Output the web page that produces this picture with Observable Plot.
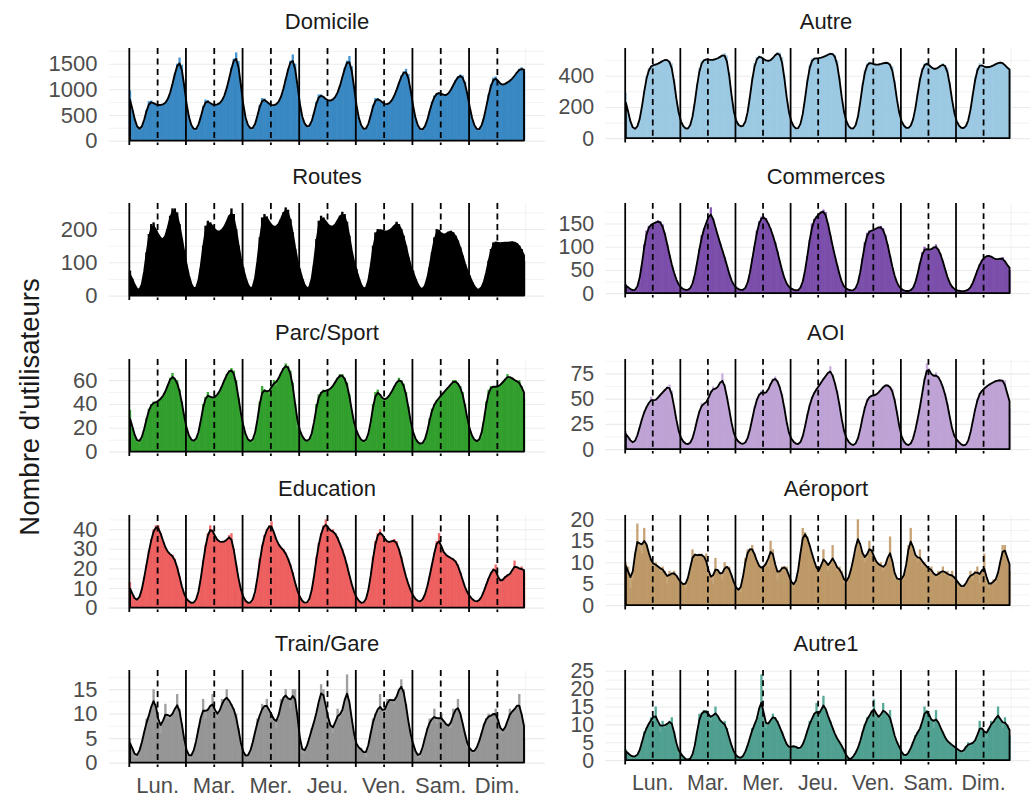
<!DOCTYPE html>
<html><head><meta charset="utf-8">
<script src="https://cdn.jsdelivr.net/npm/d3@7"></script>
<script src="https://cdn.jsdelivr.net/npm/@observablehq/plot@0.6"></script>
<style>
html,body{margin:0;padding:0;background:#fff;overflow:hidden;}
#chart{position:relative;width:1030px;height:797px;overflow:hidden;font-family:"Liberation Sans",Arial,Helvetica,sans-serif;background:#fff;}
.strip{position:absolute;text-align:center;font-size:22px;line-height:22px;color:#1a1a1a;white-space:nowrap;}
.ytitle{position:absolute;font-size:27.5px;line-height:28px;color:#1a1a1a;white-space:nowrap;transform:translate(-50%,-50%) rotate(-90deg);}
.panel{position:absolute;}
</style></head><body><div id="chart"></div>
<script>
// ---- labels ----
const days = ["Lun.","Mar.","Mer.","Jeu.","Ven.","Sam.","Dim."];
const categories = ["Domicile","Autre","Routes","Commerces","Parc/Sport","AOI","Education","Aéroport","Train/Gare","Autre1"];
const yTitle = "Nombre d'utilisateurs";

// ---- hourly values (7 days x 24 h) ----
const domicile = [
 980,600,380,230,190,220,380,600,770,780,720,700,690,690,700,720,780,900,1100,1300,1500,1620,1480,1100,
 620,420,260,200,190,250,450,680,800,790,720,690,690,700,720,760,850,1000,1200,1420,1600,1720,1550,1100,
 600,400,260,220,210,260,480,700,830,820,760,700,690,680,700,740,820,980,1200,1400,1560,1680,1500,1100,
 620,420,300,250,250,320,540,760,900,900,860,800,770,770,790,830,920,1050,1230,1420,1560,1650,1450,1050,
 600,400,260,200,200,260,480,700,830,830,790,740,700,700,720,770,860,980,1120,1270,1350,1400,1300,1000,
 620,400,260,200,190,230,380,580,760,880,930,940,920,880,870,900,980,1080,1180,1250,1290,1270,1150,950,
 620,400,260,200,190,240,420,650,900,1100,1230,1250,1170,1080,1070,1100,1140,1160,1200,1260,1330,1400,1430,1350];
const autre = [
 290,160,90,55,50,60,100,190,310,400,450,465,470,470,475,485,495,505,505,495,480,380,230,140,
 100,70,55,55,65,110,220,350,450,495,505,505,505,500,500,505,510,520,530,545,530,420,260,140,
 100,80,70,70,85,140,260,390,480,520,530,520,505,495,490,495,510,535,550,550,520,400,240,140,
 100,70,55,55,70,130,250,380,470,510,515,510,510,515,520,525,535,545,545,535,500,390,240,140,
 100,70,55,55,65,110,220,350,440,480,490,480,470,470,470,475,480,485,485,480,460,370,230,140,
 100,75,60,60,70,100,170,290,390,450,480,485,470,450,440,440,450,465,480,470,450,360,230,140,
 100,75,60,60,65,95,160,280,390,450,480,470,455,450,455,460,465,475,480,490,485,470,450,430];
const routes = [
 75,50,30,15,10,20,60,130,185,215,220,195,182,170,162,170,200,240,262,262,250,215,170,130,
 90,55,30,15,15,30,80,150,210,225,220,210,195,190,190,195,205,220,240,262,245,200,150,100,
 85,50,28,15,15,35,95,175,235,245,238,220,208,205,205,210,230,250,265,258,230,190,140,95,
 80,50,28,15,15,35,90,170,225,240,235,222,210,205,205,210,225,240,252,245,222,180,130,90,
 80,50,28,15,15,30,80,150,190,200,198,195,192,190,195,200,210,222,215,200,180,150,115,80,
 75,50,30,18,15,22,45,85,130,175,200,198,185,178,185,192,195,190,180,165,145,120,95,70,
 60,40,25,15,15,20,35,65,105,140,160,162,158,155,160,158,160,158,162,160,158,150,140,105];
const commerces = [
 20,12,8,5,5,8,25,60,105,135,145,148,150,152,157,155,148,130,105,82,60,42,28,15,
 12,8,6,6,8,15,35,65,95,125,140,150,165,185,160,140,125,108,92,78,60,40,25,15,
 12,8,6,6,8,15,40,75,100,135,155,165,165,162,150,140,125,110,90,68,48,30,18,12,
 10,7,5,5,8,18,45,80,115,150,160,165,170,175,180,175,150,125,100,80,60,40,20,10,
 10,7,5,5,8,15,40,75,110,130,135,135,135,140,142,145,140,125,105,80,55,35,20,12,
 8,5,4,4,5,8,18,40,65,88,100,95,92,92,100,105,95,85,70,50,32,20,12,8,
 6,5,4,4,5,6,10,20,35,50,62,72,78,80,82,80,75,72,72,75,78,70,60,50];
const parcSport = [
 35,20,12,8,7,10,18,28,36,40,42,40,43,44,46,50,55,62,66,60,60,52,42,28,
 18,12,9,8,9,13,25,40,46,50,45,44,46,47,50,55,60,65,68,70,68,60,45,30,
 22,12,9,8,8,12,25,42,55,52,50,48,55,60,55,62,66,70,74,72,68,58,40,20,
 18,12,9,8,9,12,22,40,48,50,52,50,52,52,55,58,62,65,65,62,58,48,35,20,
 18,12,9,8,8,12,22,40,50,52,48,44,42,45,47,50,55,58,62,60,57,50,38,22,
 15,10,7,6,6,8,15,28,36,40,43,45,47,50,52,54,56,60,60,57,55,50,40,25,
 18,12,9,8,8,12,25,42,52,55,55,54,54,56,58,60,65,62,62,60,58,60,55,45];
const aoi = [
 18,12,8,5,6,12,22,30,38,42,45,52,48,46,52,54,56,58,62,64,58,42,28,15,
 10,7,5,4,5,8,18,30,38,46,45,44,50,58,62,58,60,65,75,64,52,40,25,12,
 10,7,5,5,5,8,18,30,42,50,55,58,55,54,58,65,70,72,68,62,55,42,25,12,
 10,7,5,4,5,10,22,35,44,52,56,60,62,66,70,72,75,82,74,65,58,45,28,14,
 10,7,4,3,4,8,18,32,42,50,52,54,52,54,56,58,62,64,64,62,60,50,38,20,
 10,7,4,3,4,8,18,30,40,55,70,85,80,72,70,76,72,68,62,55,45,32,18,10,
 10,7,4,3,3,6,14,28,40,50,56,58,60,62,64,65,66,68,68,68,69,68,55,40];
const education = [
 13,6,4,3,4,8,15,22,29,35,40,42,42,38,34,30,28,27,27,25,21,16,10,6,
 4,3,2,2,3,6,14,24,32,38,42,40,36,34,33,34,33,34,37,38,30,22,14,8,
 5,3,2,2,3,6,14,25,32,37,40,42,44,38,34,32,30,30,28,25,22,18,12,8,
 5,3,2,2,3,7,15,26,33,38,42,45,40,38,40,38,36,32,30,26,22,16,12,7,
 5,3,2,2,3,7,15,26,34,38,40,37,35,33,33,34,35,34,30,26,20,15,12,8,
 6,4,3,3,3,6,10,16,22,28,34,38,30,27,27,26,25,25,24,22,18,14,10,7,
 6,4,3,3,3,5,8,12,15,18,20,22,14,12,14,16,17,16,18,24,20,19,21,18];
const aeroport = [
 10,9,4,6,12,19,13,12,18,14,12,10,9,10,9,8,9,8,5,8,7,8,7,6,
 5,5,4,6,8,13,12,11,12,12,11,12,7,6,5,11,8,7,6,10,9,9,7,5,
 4,3,3,6,11,13,13,14,12,10,9,8,9,10,9,15,13,9,6,8,9,9,9,7,
 5,4,5,7,12,18,17,16,14,12,10,9,6,9,13,10,8,9,14,9,8,9,8,5,
 5,6,8,11,12,20,13,12,10,11,15,13,11,10,9,10,8,9,10,16,10,6,6,6,
 6,6,8,14,18,13,11,10,13,9,10,9,8,9,7,6,8,7,9,7,8,6,8,6,
 6,5,4,4,5,6,8,6,8,9,5,8,12,5,4,5,6,5,7,10,14,14,11,8];
const trainGare = [
 5,3,1,1,2,4,6,9,9,11,15,12,8,6,8,12,9,9,10,10,14,11,8,4,
 2,1,1,2,4,7,9,13,9,11,11,14,10,9,10,13,12,15,12,12,11,10,7,3,
 2,1,1,2,4,6,9,9,12,11,13,10,10,9,7,9,13,13,15,13,11,15,15,10,
 3,2,2,3,5,7,8,10,12,16,15,11,9,7,6,8,11,9,10,12,18,12,9,5,
 3,3,3,2,1,3,6,9,10,10,14,9,10,13,13,13,12,13,15,17,15,12,8,5,
 4,2,1,1,3,5,7,9,8,11,8,9,10,8,8,7,7,11,10,13,10,8,6,3,
 3,2,2,3,4,6,8,9,10,9,10,11,9,6,6,7,8,11,10,11,11,14,10,5];
const autre1 = [
 3,2,1,1,1,1,2,5,8,9,10,12,11,15,10,8,11,9,10,11,12,8,4,2,
 2,1,0,0,0,1,3,8,13,13,14,14,13,11,12,15,12,11,10,11,9,6,4,2,
 1,1,0,1,2,4,6,9,10,11,12,24,10,9,10,11,13,12,11,9,8,6,4,3,
 4,4,4,3,3,4,6,8,11,11,13,16,10,14,18,14,12,11,9,7,6,5,4,3,
 1,0,0,1,2,3,5,8,10,12,12,13,17,12,11,12,16,13,12,14,9,6,5,4,
 2,1,1,2,3,5,7,8,8,10,15,14,13,11,9,14,10,9,8,6,5,5,4,4,
 3,3,2,2,4,5,4,5,5,6,11,9,8,6,9,11,10,11,15,11,9,12,10,7];

// ---- y tick labels per panel ----
const ticksDomicile = [0,500,1000,1500];
const ticksAutre = [0,200,400];
const ticksRoutes = [0,100,200];
const ticksCommerces = [0,50,100,150];
const ticksParc = [0,20,40,60];
const ticksAoi = [0,25,50,75];
const ticksEducation = [0,10,20,30,40];
const ticksAeroport = [0,5,10,15,20];
const ticksTrain = [0,5,10,15];
const ticksAutre1 = [0,5,10,15,20,25];

// ---- colours ----
const barColors  = ["#4797d2","#a8d1e7","#000000","#8858b6","#3aa834","#c8aedd","#f26a6a","#c6a274","#a0a0a0","#58aa9a"];
const areaColors = ["#3584c0","#99c7e0","#000000","#784ba8","#2f9c2a","#bc9fd3","#ec5d5d","#bb9664","#939393","#4c9e8d"];
const areaOpacity = [0.85,0.85,1,0.85,0.85,0.85,0.85,0.85,0.85,0.85];

const seriesList = [domicile,autre,routes,commerces,parcSport,aoi,education,aeroport,trainGare,autre1];
const tickList = [ticksDomicile,ticksAutre,ticksRoutes,ticksCommerces,ticksParc,ticksAoi,ticksEducation,ticksAeroport,ticksTrain,ticksAutre1];

const hoursPerDay = 24;
const dayStarts = days.map((d,i)=>i*hoursPerDay);
const noons = days.map((d,i)=>i*hoursPerDay+12);
const weekEnd = days.length*hoursPerDay;

function smooth(vals, sigma){
  return vals.map((_, i) => {
    let s = 0, w = 0;
    for (let j = Math.max(0, i-4); j <= Math.min(vals.length-1, i+4); j++) {
      const k = Math.exp(-0.5*((j-i)/sigma)**2);
      s += k*vals[j]; w += k;
    }
    return s/w;
  });
}

const chart = document.getElementById("chart");
const FONT = '"Liberation Sans", Arial, Helvetica, sans-serif';

categories.forEach((name, idx) => {
  const col = idx % 2, row = Math.floor(idx/2);
  const frameLeft = col ? 608 : 109, frameW = 436, frameH = 97;
  const frameTop = 47.5 + 155.7*row;
  const ML = 100;
  const bottom = row === 4;
  const MB = bottom ? 34 : 0;
  const values = seriesList[idx];
  const ticks = tickList[idx];
  const data = values.map((v,h)=>({h, v}));
  const sm = smooth(values, 1.0).map((s,h)=>({x:h+0.5, s}));
  const max = d3.max(values);
  const domain = [-0.05*max, 1.05*max];
  const step = ticks[1]-ticks[0];
  const minor = ticks.map(t=>t+step/2).filter(t=>t<=domain[1]);
  const pad = 0.05*weekEnd;
  const gridX = d3.range(0, weekEnd+1, 12);

  const svg = Plot.plot({
    width: ML+frameW, height: frameH+MB,
    marginLeft: ML, marginRight: 0, marginTop: 0, marginBottom: MB,
    x: {domain: [-pad, weekEnd+pad], axis: bottom ? "bottom" : null, ticks: noons,
        tickSize: 0, tickPadding: 10, tickFormat: v => days[Math.round((v-12)/24)], label: null},
    y: {domain, ticks, tickSize: 0, tickPadding: 12, tickFormat: d => String(d), label: null},
    style: {fontFamily: FONT, fontSize: "22px", color: "#4d4d4d", background: "transparent", overflow: "visible"},
    marks: [
      Plot.ruleY(minor, {stroke: "#ebebeb", strokeWidth: 0.6}),
      Plot.ruleY(ticks, {stroke: "#ebebeb", strokeWidth: 1.1}),
      Plot.ruleX(gridX, {stroke: "#ebebeb", strokeWidth: 0.6}),
      Plot.rect(data, {x1: "h", x2: d => d.h+1, y1: 0, y2: "v", fill: barColors[idx]}),
      Plot.area(sm, {x1: "x", y1: 0, y2: "s", fill: areaColors[idx], fillOpacity: areaOpacity[idx]}),
      Plot.ruleX(dayStarts, {stroke: "black", strokeWidth: 1.8}),
      Plot.ruleX(noons, {stroke: "black", strokeWidth: 1.8, strokeDasharray: "6,4.5"}),
      Plot.area(sm, {x1: "x", y1: 0, y2: "s", fill: "none", stroke: "black", strokeWidth: 1.9})
    ]
  });
  const wrap = document.createElement("div");
  wrap.className = "panel";
  wrap.style.left = (frameLeft-ML) + "px";
  wrap.style.top = frameTop + "px";
  wrap.appendChild(svg);
  chart.appendChild(wrap);

  const t = document.createElement("div");
  t.className = "strip";
  t.style.left = frameLeft + "px";
  t.style.width = frameW + "px";
  t.style.top = (frameTop - 37) + "px";
  t.textContent = name;
  chart.appendChild(t);
});

const yt = document.createElement("div");
yt.className = "ytitle";
yt.style.left = "30px";
yt.style.top = "407px";
yt.textContent = yTitle;
chart.appendChild(yt);
</script>
</body></html>
